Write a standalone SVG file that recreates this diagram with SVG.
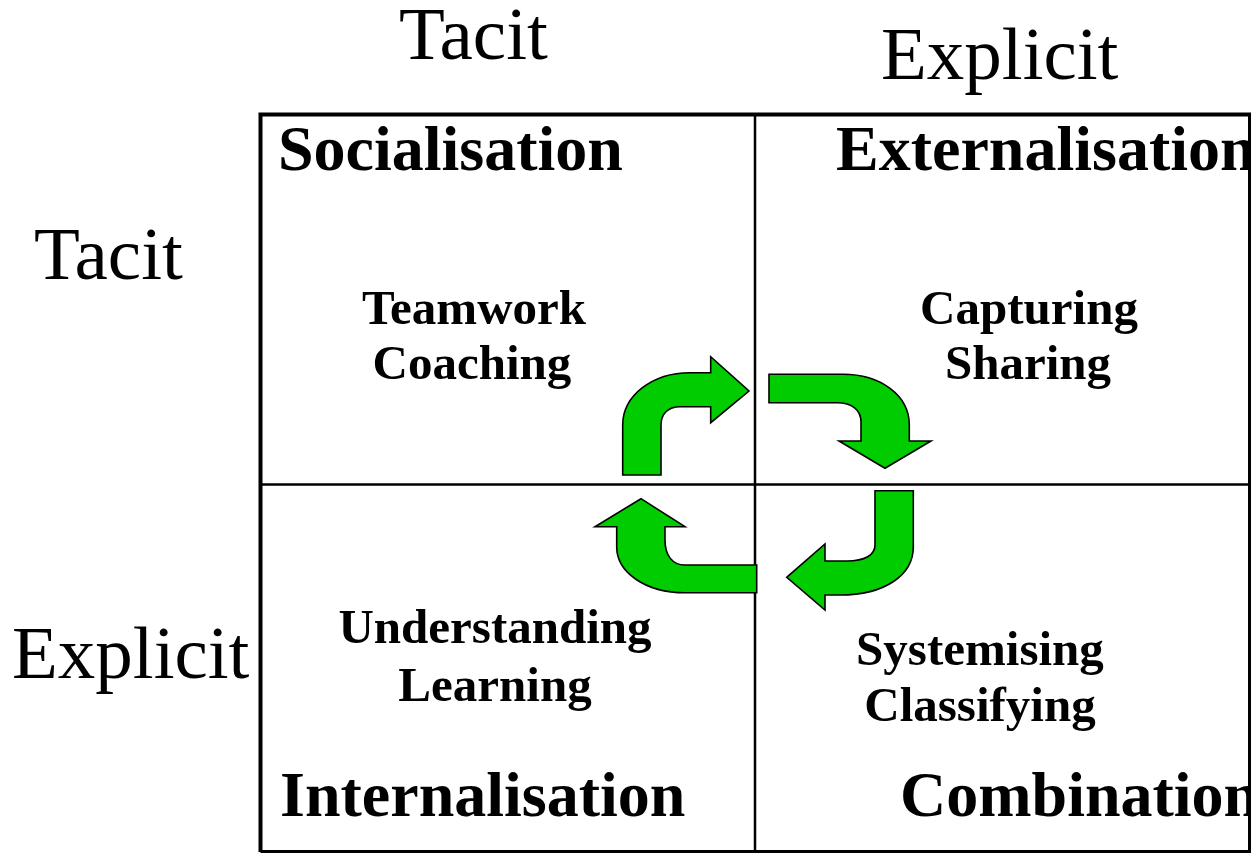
<svg xmlns="http://www.w3.org/2000/svg" width="1256" height="854" viewBox="0 0 1256 854">
<defs>
<clipPath id="box"><rect x="258" y="112" width="991" height="742"/></clipPath>
</defs>
<style>
.axis{font-family:"Liberation Serif","Times New Roman",serif;font-size:75px;fill:#000}
.head{font-family:"Liberation Serif","Times New Roman",serif;font-size:64px;font-weight:bold;fill:#000}
.body{font-family:"Liberation Serif","Times New Roman",serif;font-size:49px;font-weight:bold;fill:#000;text-anchor:middle}
.arrow{fill:#00CC00;stroke:#000;stroke-width:1.6;stroke-linejoin:miter}
.grid{stroke:#000;fill:none}
</style>
<rect width="1256" height="854" fill="#fff"/>
<g id="axis-labels">
<text class="axis" x="399" y="59">Tacit</text>
<text class="axis" x="881" y="79">Explicit</text>
<text class="axis" x="34" y="279">Tacit</text>
<text class="axis" x="12" y="678">Explicit</text>
</g>
<g id="socialisation">
<text class="head" x="278" y="170">Socialisation</text>
<text class="body" x="474" y="324">Teamwork</text>
<text class="body" x="472" y="379">Coaching</text>
</g>
<g id="externalisation" clip-path="url(#box)">
<text class="head" x="836" y="170">Externalisation</text>
<text class="body" x="1029" y="324">Capturing</text>
<text class="body" x="1028" y="379">Sharing</text>
</g>
<g id="internalisation">
<text class="head" x="280" y="816">Internalisation</text>
<text class="body" x="495" y="643">Understanding</text>
<text class="body" x="495" y="701">Learning</text>
</g>
<g id="combination" clip-path="url(#box)">
<text class="head" x="900" y="816">Combination</text>
<text class="body" x="980" y="665">Systemising</text>
<text class="body" x="980" y="721">Classifying</text>
</g>
<g id="grid">
<line class="grid" x1="755" y1="114" x2="755" y2="852" stroke-width="2.5"/>
<line class="grid" x1="260" y1="484.5" x2="1250" y2="484.5" stroke-width="2.5"/>
<path class="grid" d="M1249.5,114.5 L1249.5,851.5 L260.5,851.5" stroke-width="3"/>
<path class="grid" d="M260.5,852 L260.5,114.5 L1251,114.5" stroke-width="4"/>
</g>
<g id="connectors">
<path class="arrow" d="M622.7,475 L622.7,425 C622.7,396 652,372.7 690,372.7 L710.7,372.7 L710.7,356.7 L749,391 L710.7,422.7 L710.7,406.7 L680,406.7 C668,406.7 661,414 661,425 L661,475 Z"/>
<path class="arrow" d="M769,374.3 L843,374.3 C880,374.3 909.3,395 909.3,425 L909.3,441 L931,441 L885,468.3 L839,441 L861,441 L861,422 C861,410 852,402.7 837,402.7 L769,402.7 Z"/>
<path class="arrow" d="M875,490.7 L913.3,490.7 L913.3,547 C913.3,575 885,595 840,595 L825,595 L825,610 L786.7,577.3 L825,544 L825,561 L846.7,561 C865,561 875,555 875,545 Z"/>
<path class="arrow" d="M756.7,565 L756.7,592.7 L685,592.7 C645,592.7 616.7,572 616.7,547 L616.7,526.7 L595,526.7 L641,498.7 L685,526.7 L665,526.7 L665,540 C665,555 672,565 685,565 Z"/>
</g>
</svg>
